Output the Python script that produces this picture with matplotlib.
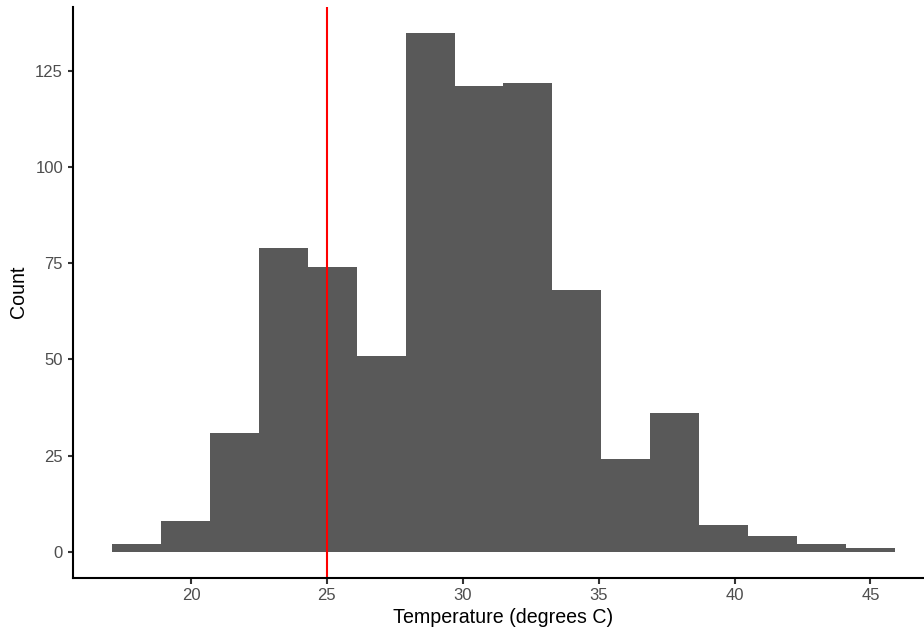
import matplotlib
matplotlib.use("Agg")
import matplotlib.pyplot as plt
import numpy as np

plt.rcParams['font.family'] = ['Liberation Sans', 'DejaVu Sans']

# Histogram data
bin_start = 17.1
bin_width = 1.8
counts = [2, 8, 31, 79, 74, 51, 135, 121, 122, 68, 24, 36, 7, 4, 2, 1]
ref_line = 25
x_ticks = [20, 25, 30, 35, 40, 45]
y_ticks = [0, 25, 50, 75, 100, 125]
x_label = "Temperature (degrees C)"
y_label = "Count"

edges = bin_start + bin_width * np.arange(len(counts) + 1)

fig = plt.figure(figsize=(9.24, 6.34), dpi=100)
W, H = 924, 634
left_px, right_px, top_px, bottom_px = 73, 934, 6.7, 577.7
ax = fig.add_axes([left_px / W, (H - bottom_px) / H,
                   (right_px - left_px) / W, (bottom_px - top_px) / H])

ax.bar(edges[:-1], counts, width=np.diff(edges), align='edge',
       color='#595959', edgecolor='none', linewidth=0)
ax.axvline(ref_line, color='#FF0000', linewidth=1.5)

lo, hi = edges[0], edges[-1]
pad = 0.05 * (hi - lo)
ax.set_xlim(lo - pad, hi + pad)
ymax = max(counts)
ax.set_ylim(-0.05 * ymax, ymax * 1.05)

ax.set_xticks(x_ticks)
ax.set_yticks(y_ticks)
ax.tick_params(axis='both', length=3.96, width=1.5, color='#333333',
               labelcolor='#4D4D4D', labelsize=12, pad=3.2)

for s in ['top', 'right']:
    ax.spines[s].set_visible(False)
for s in ['left', 'bottom']:
    ax.spines[s].set_linewidth(1.5)
    ax.spines[s].set_color('black')

ax.set_xlabel(x_label, fontsize=14.1, color='black', labelpad=4)
ax.set_ylabel(y_label, fontsize=14.1, color='black', labelpad=5)

fig.savefig('out.png', dpi=100)
